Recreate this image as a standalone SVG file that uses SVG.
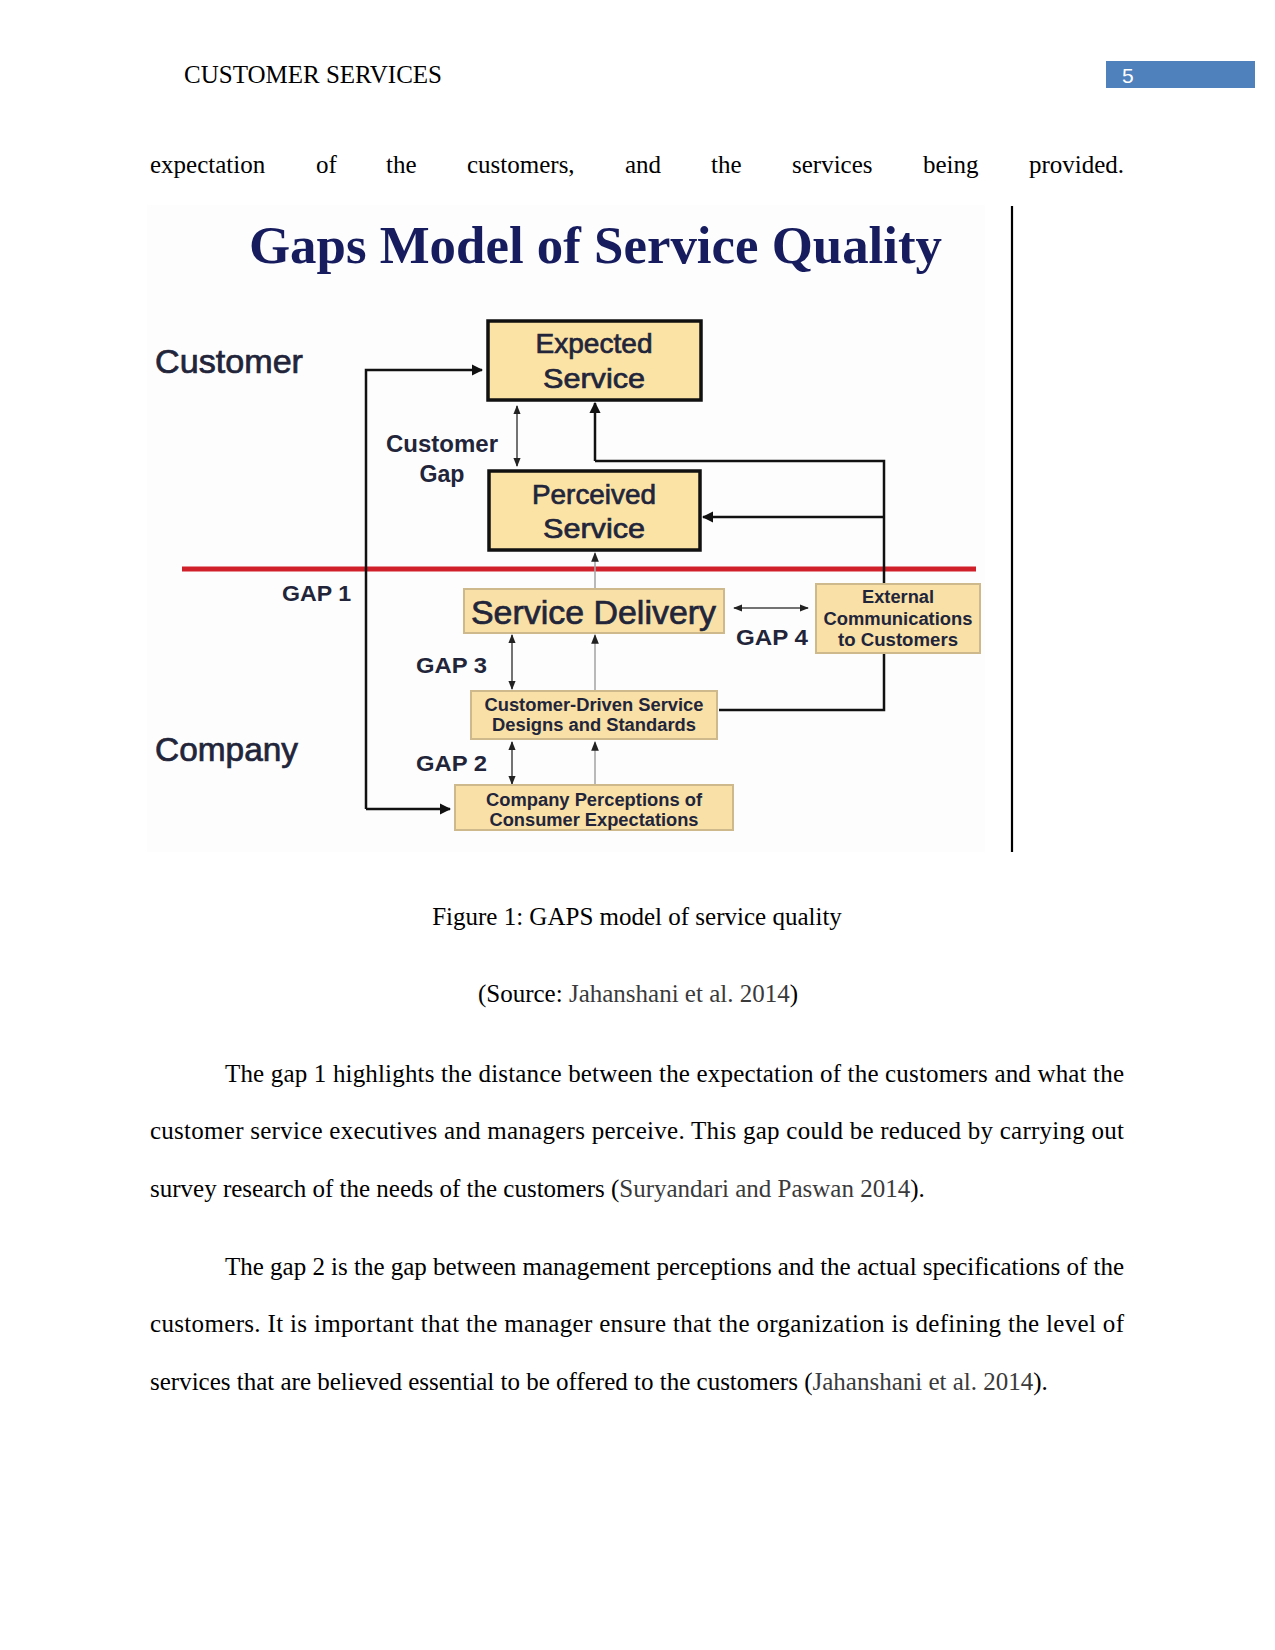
<svg xmlns="http://www.w3.org/2000/svg" width="1275" height="1650" viewBox="0 0 1275 1650">
<defs>
<style>
.body{font-family:"Liberation Serif","Times New Roman",serif;font-size:25px;fill:#000}
.cite{fill:#3a3a3a}
.lbl{font-family:"Liberation Sans",Arial,sans-serif;fill:#22253a}
.b{font-weight:bold}
.m{stroke:#22253a;stroke-width:0.7}
.box1{fill:#fbe3a6;stroke:#111;stroke-width:3.5}
.box2{fill:#f8e0a6;stroke:#cdb98c;stroke-width:2}
.thick{fill:none;stroke:#111;stroke-width:2.5}
.thin{fill:none;stroke:#a8a8a8;stroke-width:1.6}
.gap{fill:none;stroke:#444;stroke-width:1.5}
</style>
<marker id="ah" viewBox="0 0 10 10" refX="9" refY="5" markerWidth="4.5" markerHeight="4.5" orient="auto-start-reverse"><path d="M0,0 L10,5 L0,10 z" fill="#111"/></marker>
<marker id="ahs" viewBox="0 0 10 10" refX="9" refY="5" markerWidth="6" markerHeight="6" orient="auto-start-reverse"><path d="M0,1 L10,5 L0,9 z" fill="#222"/></marker>
</defs>

<g id="header">
<text class="body" x="184" y="83">CUSTOMER SERVICES</text>
<rect x="1106" y="61" width="149" height="27" fill="#4f81bd"/>
<text x="1122" y="83" font-family="Liberation Sans,Arial,sans-serif" font-size="21" fill="#fff">5</text>
</g>

<g id="intro" class="body">
<text x="150" y="173">expectation</text>
<text x="316" y="173">of</text>
<text x="386" y="173">the</text>
<text x="467" y="173">customers,</text>
<text x="625" y="173">and</text>
<text x="711" y="173">the</text>
<text x="792" y="173">services</text>
<text x="923" y="173">being</text>
<text x="1029" y="173">provided.</text>
</g>

<g id="figure">
<rect x="147" y="205" width="838" height="647" fill="#fdfdfd"/>
<line x1="1012" y1="206" x2="1012" y2="852" stroke="#000" stroke-width="2.2"/>
<text id="title" x="249" y="263" textLength="693" lengthAdjust="spacingAndGlyphs" font-family="Liberation Serif,Times New Roman,serif" font-weight="bold" font-size="52" fill="#161c5e">Gaps Model of Service Quality</text>
<text id="lbl-customer" class="lbl m" x="155" y="373" font-size="33" textLength="148" lengthAdjust="spacingAndGlyphs">Customer</text>
<text id="lbl-company" class="lbl m" x="155" y="761" font-size="33" textLength="143" lengthAdjust="spacingAndGlyphs">Company</text>
<line id="divider" x1="182" y1="569" x2="976" y2="569" stroke="#d0202a" stroke-width="5"/>
</g>

<g id="connectors">
<polyline class="thick" points="366,809 366,370 482,370" marker-end="url(#ah)"/>
<line class="thick" x1="366" y1="809" x2="450" y2="809" marker-end="url(#ah)"/>
<polyline class="thick" points="595,461 884,461 884,584"/>
<polyline class="thick" points="884,653 884,710 719,710"/>
<line class="thick" x1="595" y1="461" x2="595" y2="403" marker-end="url(#ah)"/>
<line class="thick" x1="884" y1="517" x2="703" y2="517" marker-end="url(#ah)"/>
<line class="gap" x1="517" y1="406" x2="517" y2="466" marker-start="url(#ahs)" marker-end="url(#ahs)"/>
<line class="thin" x1="595" y1="589" x2="595" y2="553" marker-end="url(#ahs)"/>
<line class="gap" x1="734" y1="608" x2="808" y2="608" marker-start="url(#ahs)" marker-end="url(#ahs)"/>
<line class="gap" x1="512" y1="635" x2="512" y2="689" marker-start="url(#ahs)" marker-end="url(#ahs)"/>
<line class="thin" x1="595" y1="691" x2="595" y2="635" marker-end="url(#ahs)"/>
<line class="gap" x1="512" y1="742" x2="512" y2="784" marker-start="url(#ahs)" marker-end="url(#ahs)"/>
<line class="thin" x1="595" y1="785" x2="595" y2="742" marker-end="url(#ahs)"/>
</g>

<g id="expected-service">
<rect class="box1" x="488" y="321" width="213" height="79"/>
<text class="lbl m" x="594" y="353" font-size="28" text-anchor="middle" textLength="117" lengthAdjust="spacingAndGlyphs">Expected</text>
<text class="lbl m" x="594" y="388" font-size="28" text-anchor="middle" textLength="102" lengthAdjust="spacingAndGlyphs">Service</text>
</g>

<g id="perceived-service">
<rect class="box1" x="489" y="471" width="211" height="79"/>
<text class="lbl m" x="594" y="504" font-size="28" text-anchor="middle" textLength="124" lengthAdjust="spacingAndGlyphs">Perceived</text>
<text class="lbl m" x="594" y="538" font-size="28" text-anchor="middle" textLength="102" lengthAdjust="spacingAndGlyphs">Service</text>
</g>

<g id="customer-gap">
<text class="lbl b" x="442" y="452" font-size="23" text-anchor="middle" textLength="112" lengthAdjust="spacingAndGlyphs">Customer</text>
<text class="lbl b" x="442" y="482" font-size="23" text-anchor="middle" textLength="45" lengthAdjust="spacingAndGlyphs">Gap</text>
</g>

<g id="gap-labels">
<text class="lbl b" x="282" y="601" font-size="22" textLength="69" lengthAdjust="spacingAndGlyphs">GAP 1</text>
<text class="lbl b" x="416" y="673" font-size="22" textLength="71" lengthAdjust="spacingAndGlyphs">GAP 3</text>
<text class="lbl b" x="416" y="771" font-size="22" textLength="71" lengthAdjust="spacingAndGlyphs">GAP 2</text>
<text class="lbl b" x="736" y="645" font-size="22" textLength="72" lengthAdjust="spacingAndGlyphs">GAP 4</text>
</g>

<g id="service-delivery">
<rect class="box2" x="464" y="589" width="260" height="44"/>
<text class="lbl m" x="471" y="624" font-size="33" textLength="245" lengthAdjust="spacingAndGlyphs">Service Delivery</text>
</g>

<g id="external-communications">
<rect class="box2" x="816" y="584" width="164" height="69"/>
<text class="lbl b" x="898" y="603" font-size="18" text-anchor="middle" textLength="72" lengthAdjust="spacingAndGlyphs">External</text>
<text class="lbl b" x="898" y="625" font-size="18" text-anchor="middle" textLength="149" lengthAdjust="spacingAndGlyphs">Communications</text>
<text class="lbl b" x="898" y="646" font-size="18" text-anchor="middle" textLength="120" lengthAdjust="spacingAndGlyphs">to Customers</text>
</g>

<g id="customer-driven">
<rect class="box2" x="471" y="691" width="246" height="48"/>
<text class="lbl b" x="594" y="711" font-size="18" text-anchor="middle" textLength="219" lengthAdjust="spacingAndGlyphs">Customer-Driven Service</text>
<text class="lbl b" x="594" y="731" font-size="18" text-anchor="middle" textLength="204" lengthAdjust="spacingAndGlyphs">Designs and Standards</text>
</g>

<g id="company-perceptions">
<rect class="box2" x="455" y="785" width="278" height="45"/>
<text class="lbl b" x="594" y="806" font-size="18" text-anchor="middle" textLength="216" lengthAdjust="spacingAndGlyphs">Company Perceptions of</text>
<text class="lbl b" x="594" y="826" font-size="18" text-anchor="middle" textLength="209" lengthAdjust="spacingAndGlyphs">Consumer Expectations</text>
</g>

<g id="caption" class="body">
<text x="637" y="925" text-anchor="middle">Figure 1: GAPS model of service quality</text>
<text x="638" y="1002" text-anchor="middle">(Source: <tspan class="cite">Jahanshani et al. 2014</tspan>)</text>
</g>

<g id="paragraph1" class="body">
<text x="225" y="1082" textLength="899" lengthAdjust="spacing">The gap 1 highlights the distance between the expectation of the customers and what the</text>
<text x="150" y="1139" textLength="974" lengthAdjust="spacing">customer service executives and managers perceive. This gap could be reduced by carrying out</text>
<text x="150" y="1197">survey research of the needs of the customers (<tspan class="cite">Suryandari and Paswan 2014</tspan>).</text>
</g>

<g id="paragraph2" class="body">
<text x="225" y="1275" textLength="899" lengthAdjust="spacing">The gap 2 is the gap between management perceptions and the actual specifications of the</text>
<text x="150" y="1332" textLength="974" lengthAdjust="spacing">customers. It is important that the manager ensure that the organization is defining the level of</text>
<text x="150" y="1390">services that are believed essential to be offered to the customers (<tspan class="cite">Jahanshani et al. 2014</tspan>).</text>
</g>
</svg>
